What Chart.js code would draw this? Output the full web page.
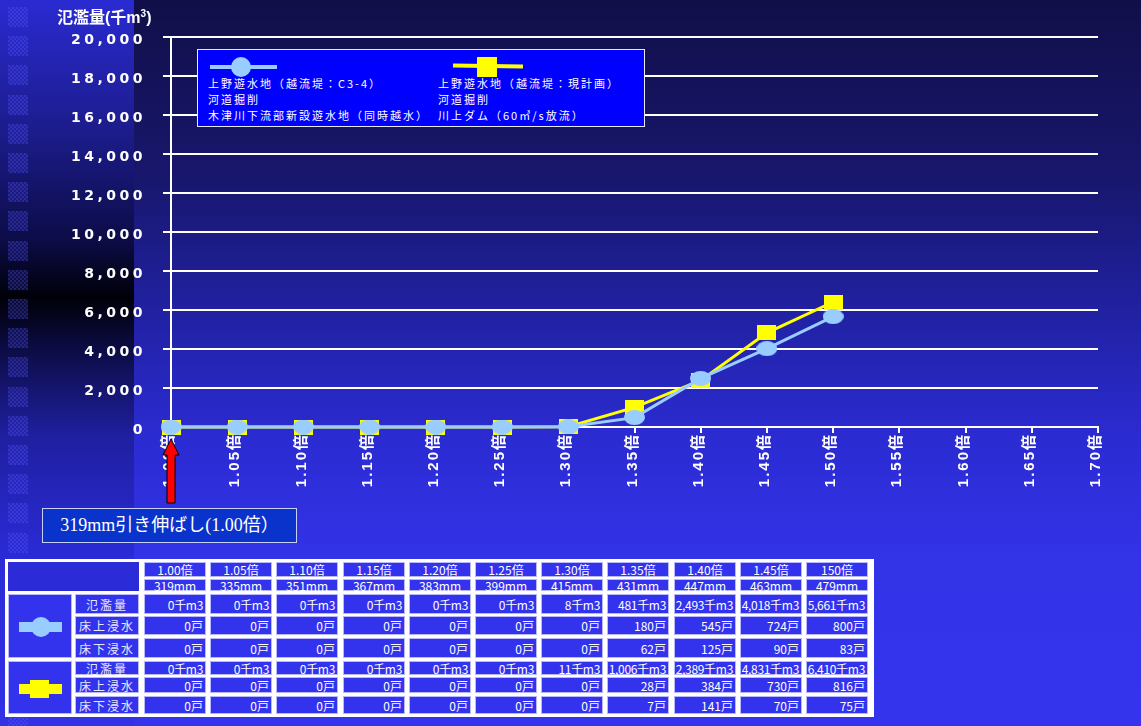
<!DOCTYPE html>
<html lang="ja">
<head>
<meta charset="UTF-8">
<title>氾濫量</title>
<script src="https://cdn.jsdelivr.net/npm/chart.js@4"></script>
<style>
    body {
        margin: 0;
        width: 1141px;
        height: 726px;
        overflow: hidden;
        position: relative;
        background: #3434ee;
        font-family: "Noto Sans CJK JP", sans-serif;
    }
    #grafico { position: absolute; left: 0; top: 0; }
    .abs { position: absolute; }

    #tituloY {
        left: 57px; top: 4px;
        color: #fff; font-weight: bold; font-size: 16px;
        font-family: "Liberation Sans", "Noto Sans CJK JP", sans-serif;
    }
    #tituloY sup { font-size: 10px; }

    #leyenda {
        left: 197px; top: 49px; width: 446px; height: 76px;
        background: #0000ff; border: 1px solid #e8e8ff;
    }
    #leyenda .txt {
        color: #fff; font-size: 11px; letter-spacing: 2px;
        line-height: 16px; white-space: nowrap;
    }

    #nota {
        left: 42px; top: 508px; width: 253px; height: 33px;
        background: #0a33cc; border: 1px solid #c8d0ff;
        color: #fff; font-size: 18px; line-height: 33px; text-align: center;
        font-family: "Liberation Serif", "Noto Sans CJK JP", serif;
        white-space: nowrap;
    }

    #marco {
        left: 5px; top: 559px; width: 869px; height: 158px; background: #fff;
    }
    .celda {
        position: absolute; box-sizing: border-box;
        background: #3333ee; border: 1px solid #b8b8ff;
        color: #fff; font-size: 12px; white-space: nowrap;
        display: flex; align-items: center; overflow: visible;
    }
    .centro { justify-content: center; }
    .derecha { justify-content: flex-end; padding-right: 2px; }
    .rotulo { justify-content: center; letter-spacing: 2px; color: #e8e8ff; }
</style>
</head>
<body>
<canvas id="grafico" width="1141" height="726"></canvas>

<div id="tituloY" class="abs">氾濫量(千m<sup>3</sup>)</div>

<div id="leyenda" class="abs">
    <div class="abs" style="left:12px; top:15px; width:67px; height:4px; background:#99ccff;"></div>
    <div class="abs" style="left:33px; top:7px; width:20px; height:20px; border-radius:50%; background:#99ccff;"></div>
    <div class="abs" style="left:255px; top:14px; width:70px; height:4px; background:#ffff00; transform:rotate(1deg);"></div>
    <div class="abs" style="left:279px; top:7px; width:20px; height:20px; background:#ffff00;"></div>
    <div class="abs txt" style="left:10px; top:25px;">上野遊水地（越流堤：C3-4）<br>河道掘削<br>木津川下流部新設遊水地（同時越水）</div>
    <div class="abs txt" style="left:240px; top:25px;">上野遊水地（越流堤：現計画）<br>河道掘削<br>川上ダム（60㎥/s放流）</div>
</div>

<div id="nota" class="abs">319mm引き伸ばし(1.00倍）</div>

<div id="marco" class="abs"></div>
<div id="tabla"></div>

<script>
// 倍率ラベル（横軸）
const etiquetasX = ['1.00倍', '1.05倍', '1.10倍', '1.15倍', '1.20倍', '1.25倍', '1.30倍',
    '1.35倍', '1.40倍', '1.45倍', '1.50倍', '1.55倍', '1.60倍', '1.65倍', '1.70倍'];

// 表の見出し
const encabezados = ['1.00倍', '1.05倍', '1.10倍', '1.15倍', '1.20倍', '1.25倍', '1.30倍',
    '1.35倍', '1.40倍', '1.45倍', '150倍'];
const lluvias = ['319mm', '335mm', '351mm', '367mm', '383mm', '399mm', '415mm',
    '431mm', '447mm', '463mm', '479mm'];
const rotulos = ['氾濫量', '床上浸水', '床下浸水'];

// 上野遊水地（越流堤：C3-4）
const inundacion1 = [0, 0, 0, 0, 0, 0, 8, 481, 2493, 4018, 5661];
const sobrePiso1 = [0, 0, 0, 0, 0, 0, 0, 180, 545, 724, 800];
const bajoPiso1 = [0, 0, 0, 0, 0, 0, 0, 62, 125, 90, 83];

// 上野遊水地（越流堤：現計画）
const inundacion2 = [0, 0, 0, 0, 0, 0, 11, 1006, 2389, 4831, 6410];
const sobrePiso2 = [0, 0, 0, 0, 0, 0, 0, 28, 384, 730, 816];
const bajoPiso2 = [0, 0, 0, 0, 0, 0, 0, 7, 141, 70, 75];

// 縦軸
const yMax = 20000;
const yPaso = 2000;

const azul = '#99ccff';
const amarillo = '#ffff00';

function marcaElipse(w, h, color) {
    const c = document.createElement('canvas');
    c.width = w; c.height = h;
    const g = c.getContext('2d');
    g.fillStyle = color;
    g.beginPath();
    g.ellipse(w / 2, h / 2, w / 2, h / 2, 0, 0, Math.PI * 2);
    g.fill();
    return c;
}

function marcaCuadro(w, h, color) {
    const c = document.createElement('canvas');
    c.width = w; c.height = h;
    const g = c.getContext('2d');
    g.fillStyle = color;
    g.fillRect(0, 0, w, h);
    return c;
}

// 背景（グラデーションと左の帯）
const fondo = {
    id: 'fondo',
    beforeDraw(chart) {
        const ctx = chart.ctx;
        const W = chart.width, H = chart.height;
        ctx.save();
        let g = ctx.createLinearGradient(0, 0, 0, H);
        g.addColorStop(0, '#110f48');
        g.addColorStop(0.25, '#18176e');
        g.addColorStop(0.45, '#2222a8');
        g.addColorStop(0.6, '#2b2bd2');
        g.addColorStop(0.77, '#3333e8');
        g.addColorStop(1, '#3434ee');
        ctx.fillStyle = g;
        ctx.fillRect(0, 0, W, H);

        g = ctx.createLinearGradient(0, 0, 0, H);
        g.addColorStop(0, '#2a2ad2');
        g.addColorStop(0.18, '#1c1c8c');
        g.addColorStop(0.33, '#0c0c48');
        g.addColorStop(0.41, '#000008');
        g.addColorStop(0.48, '#0c0c44');
        g.addColorStop(0.6, '#1f1fa0');
        g.addColorStop(0.77, '#2b2bd8');
        g.addColorStop(1, '#3232e6');
        ctx.fillStyle = g;
        ctx.fillRect(0, 0, 134, H);

        // 市松模様の小さな四角
        for (let y = 7; y < H; y += 29.2) {
            for (let py = 0; py < 19; py += 2) {
                for (let px = 0; px < 19; px += 2) {
                    ctx.fillStyle = ((px + py) / 2) % 2 === 0 ? 'rgba(90,90,255,0.35)' : 'rgba(60,60,230,0.2)';
                    ctx.fillRect(8 + px, Math.round(y) + py, 2, 2);
                }
            }
        }
        ctx.restore();
    }
};

// 1.00倍の位置を指す矢印
const flecha = {
    id: 'flecha',
    afterDraw(chart) {
        const ctx = chart.ctx;
        const x = chart.scales.x.getPixelForValue(0);
        const yTop = chart.scales.y.getPixelForValue(0) + 12;
        ctx.save();
        ctx.beginPath();
        ctx.moveTo(x, yTop);
        ctx.lineTo(x + 8, yTop + 16);
        ctx.lineTo(x + 4, yTop + 16);
        ctx.lineTo(x + 4, yTop + 64);
        ctx.lineTo(x - 4, yTop + 64);
        ctx.lineTo(x - 4, yTop + 16);
        ctx.lineTo(x - 8, yTop + 16);
        ctx.closePath();
        ctx.fillStyle = '#ff0000';
        ctx.fill();
        ctx.lineWidth = 1;
        ctx.strokeStyle = '#000';
        ctx.stroke();
        ctx.restore();
    }
};

// 軸ラベルごとに字間を変える
const espaciado = {
    id: 'espaciado',
    afterUpdate(chart) {
        const anchos = { x: '2px', y: '3.5px' };
        Object.keys(anchos).forEach(id => {
            const s = chart.scales[id];
            if (s._conEspacio) return;
            const original = s.drawLabels;
            s.drawLabels = function (area) {
                this.ctx.letterSpacing = anchos[id];
                original.call(this, area);
                this.ctx.letterSpacing = '0px';
            };
            s._conEspacio = true;
        });
    }
};

const ctx = document.getElementById('grafico').getContext('2d');
new Chart(ctx, {
    type: 'line',
    data: {
        labels: etiquetasX,
        datasets: [
            {
                label: '上野遊水地（越流堤：C3-4）',
                data: inundacion1,
                borderColor: azul,
                backgroundColor: azul,
                borderWidth: 3,
                pointStyle: marcaElipse(21, 15, azul),
                tension: 0,
                clip: false
            },
            {
                label: '上野遊水地（越流堤：現計画）',
                data: inundacion2,
                borderColor: amarillo,
                backgroundColor: amarillo,
                borderWidth: 3,
                pointStyle: marcaCuadro(19, 15, amarillo),
                tension: 0,
                clip: false
            }
        ]
    },
    options: {
        responsive: false,
        animation: false,
        events: [],
        layout: { padding: { left: 0, top: 37, right: 43, bottom: 0 } },
        plugins: {
            legend: { display: false },
            tooltip: { enabled: false }
        },
        scales: {
            x: {
                offset: false,
                afterFit: (s) => { s.height = 299; },
                grid: { drawOnChartArea: false, drawTicks: true, tickLength: 6, color: '#fff', lineWidth: 2 },
                border: { color: '#fff', width: 2 },
                ticks: {
                    autoSkip: false,
                    minRotation: 90,
                    maxRotation: 90,
                    padding: 0,
                    labelOffset: -2,
                    color: '#fff',
                    font: { family: '"Liberation Sans", "Noto Sans CJK JP"', size: 15, weight: 'bold' }
                }
            },
            y: {
                min: 0,
                max: yMax,
                afterFit: (s) => { s.width = 171; },
                grid: { color: '#fff', lineWidth: 2, tickLength: 8 },
                border: { color: '#fff', width: 2 },
                ticks: {
                    stepSize: yPaso,
                    padding: 17,
                    labelOffset: 3,
                    color: '#fff',
                    font: { family: '"DejaVu Sans"', size: 14, weight: 'bold' },
                    callback: (v) => v.toLocaleString('en-US')
                }
            }
        }
    },
    plugins: [fondo, espaciado, flecha]
});

// 下の表
const tabla = document.getElementById('tabla');

function celda(x, y, w, h, texto, clase, extra) {
    const d = document.createElement('div');
    d.className = 'celda ' + (clase || '');
    d.style.left = x + 'px';
    d.style.top = y + 'px';
    d.style.width = w + 'px';
    d.style.height = h + 'px';
    if (extra) Object.assign(d.style, extra);
    if (texto !== undefined) d.textContent = texto;
    tabla.appendChild(d);
    return d;
}

const colIni = 144, colPaso = 66.2, colAncho = 62;
const filasH = [[562, 15], [579, 12]];
const grupos = [
    { filas: [[594, 20], [616, 19], [638, 20]], marco: [594, 64], valores: [inundacion1, sobrePiso1, bajoPiso1], color: azul, tipo: 'elipse' },
    { filas: [[661, 14], [677, 16], [696, 18]], marco: [661, 53], valores: [inundacion2, sobrePiso2, bajoPiso2], color: amarillo, tipo: 'cuadro' }
];

// 左上の空欄
celda(8, 562, 131, 29, undefined, '', { background: '#2b2bd8', border: 'none' });

encabezados.forEach((t, i) => {
    const x = Math.round(colIni + i * colPaso);
    celda(x, filasH[0][0], colAncho, filasH[0][1], t, 'centro');
    celda(x, filasH[1][0], colAncho, filasH[1][1], lluvias[i], 'centro');
});

grupos.forEach(gr => {
    const m = celda(8, gr.marco[0], 64, gr.marco[1], undefined, '');
    const cy = gr.marco[1] / 2;
    const barra = document.createElement('div');
    barra.className = 'abs';
    Object.assign(barra.style, { left: '10px', top: (cy - 5) + 'px', width: '43px', height: '10px', background: gr.color });
    m.appendChild(barra);
    const marca = document.createElement('div');
    marca.className = 'abs';
    if (gr.tipo === 'elipse') {
        Object.assign(marca.style, { left: '22px', top: (cy - 10) + 'px', width: '20px', height: '20px', borderRadius: '50%', background: gr.color });
    } else {
        Object.assign(marca.style, { left: '21px', top: (cy - 9) + 'px', width: '19px', height: '18px', background: gr.color });
    }
    m.appendChild(marca);

    gr.filas.forEach((f, r) => {
        celda(75, f[0], 64, f[1], rotulos[r], 'rotulo');
        gr.valores[r].forEach((v, i) => {
            const x = Math.round(colIni + i * colPaso);
            const texto = r === 0 ? v.toLocaleString('en-US') + '千m3' : v + '戸';
            celda(x, f[0], colAncho, f[1], texto, 'derecha', r === 0 ? { letterSpacing: '-0.3px' } : null);
        });
    });
});
</script>
</body>
</html>
